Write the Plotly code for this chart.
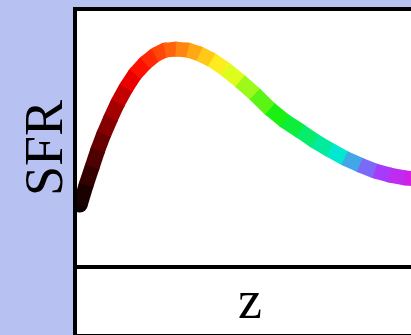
import plotly.graph_objects as go
from plotly.colors import sample_colorscale

# redshift (x) and star formation rate (arbitrary units)
z = [0.07, 0.21, 0.35, 0.48, 0.62, 0.78, 0.94, 1.13, 1.34, 1.57, 1.80, 2.03, 2.28,
     2.56, 2.83, 3.11, 3.41, 3.76, 4.10, 4.45, 4.79, 5.14, 5.48, 5.83, 6.17,
     6.52, 6.87, 7.21, 7.56, 7.79]
sfr = [2.36, 3.15, 3.86, 4.53, 5.16, 5.79, 6.38, 6.97, 7.52, 7.95, 8.27, 8.46, 8.50,
       8.46, 8.31, 8.07, 7.72, 7.24, 6.73, 6.14, 5.67, 5.28, 4.88, 4.53, 4.21,
       3.94, 3.70, 3.54, 3.43, 3.39]

z_max = 7.7
hue_scale = [
    [0.0, "#000000"],
    [0.174, "#ff0000"],
    [0.443, "#ffff20"],
    [0.607, "#10f010"],
    [0.78, "#00e8d0"],
    [0.84, "#5a90f0"],
    [0.90, "#a040ff"],
    [1.0, "#d41ee4"],
]

W, H = 411, 335
L, T, B = 77, 11, 70
pw, ph = W - L, H - T - B
lw = 15

def px(x):
    return (x - L) / pw

def py(y):
    return (H - B - y) / ph

fig = go.Figure()

# round joints / start cap
fig.add_trace(go.Scatter(
    x=z, y=sfr, mode="markers",
    marker=dict(size=lw, color=z, colorscale=hue_scale, cmin=0, cmax=z_max, line=dict(width=0)),
    hoverinfo="skip", showlegend=False,
))

for i in range(len(z) - 1):
    mid = (z[i] + z[i + 1]) / 2 / z_max
    c = sample_colorscale(hue_scale, [min(mid, 1.0)])[0]
    fig.add_trace(go.Scatter(
        x=z[i:i + 2], y=sfr[i:i + 2], mode="lines",
        line=dict(color=c, width=lw), hoverinfo="skip", showlegend=False,
    ))

bg = "rgb(184,194,242)"
shapes = [
    # white x-label area
    dict(type="rect", xref="paper", yref="paper", x0=px(L), x1=px(W + 20),
         y0=py(334), y1=py(265), fillcolor="white", line=dict(width=0), layer="below"),
    # frame
    dict(type="line", xref="paper", yref="paper", x0=px(75), x1=px(75),
         y0=py(7), y1=py(H + 5), line=dict(color="black", width=4)),
    dict(type="line", xref="paper", yref="paper", x0=px(73), x1=px(W + 20),
         y0=py(9), y1=py(9), line=dict(color="black", width=4)),
    dict(type="line", xref="paper", yref="paper", x0=px(73), x1=px(W + 20),
         y0=py(267), y1=py(267), line=dict(color="black", width=4)),
    dict(type="line", xref="paper", yref="paper", x0=px(73), x1=px(W + 20),
         y0=py(334.5), y1=py(334.5), line=dict(color="black", width=1)),
]

fig.update_layout(
    width=W, height=H,
    margin=dict(l=L, r=0, t=T, b=B, pad=0),
    paper_bgcolor=bg, plot_bgcolor="white",
    shapes=shapes,
    annotations=[
        dict(text="SFR", xref="paper", yref="paper", x=px(44), y=py(148),
             showarrow=False, textangle=-90, xanchor="center", yanchor="middle",
             font=dict(family="Liberation Serif", size=54, color="black")),
        dict(text="z", xref="paper", yref="paper", x=px(250), y=py(300),
             showarrow=False, xanchor="center", yanchor="middle",
             font=dict(family="Liberation Serif", size=54, color="black")),
    ],
)
fig.update_xaxes(range=[0, z_max], visible=False)
fig.update_yaxes(range=[0, 10], visible=False)

fig.write_html(
    "out.html",
    config={"displayModeBar": False, "staticPlot": True},
    post_script="document.body.style.margin='0';document.body.style.overflow='hidden';",
)
